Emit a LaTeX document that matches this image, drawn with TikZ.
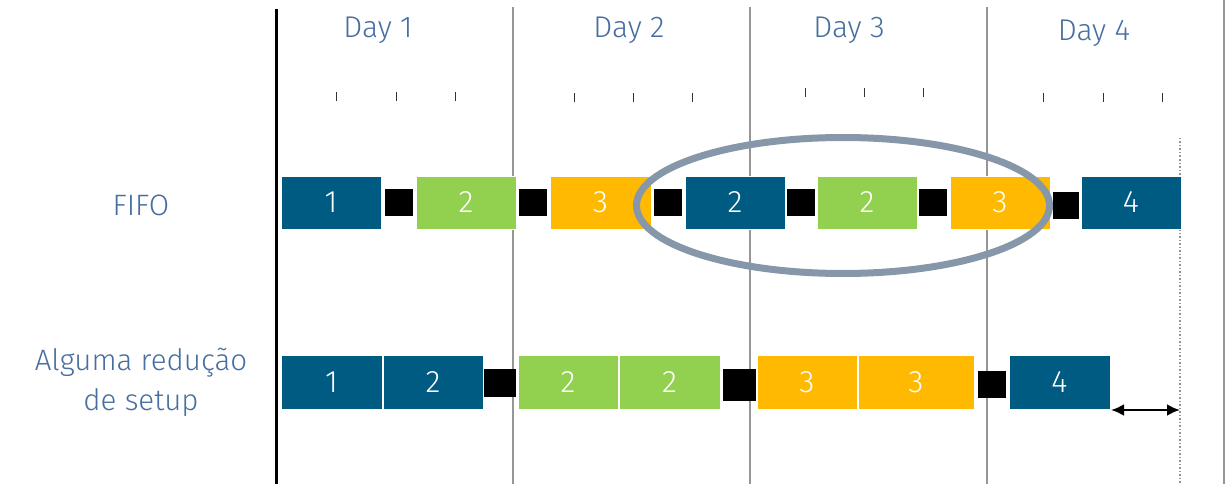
\documentclass[tikz,border=0pt]{standalone}
\usepackage{fontspec}
\setmainfont{Fira Sans Light}
\usetikzlibrary{arrows.meta,shapes.geometric}
\definecolor{cblue}{RGB}{0,91,130}
\definecolor{cgreen}{RGB}{146,208,80}
\definecolor{cyellow}{RGB}{255,185,0}
\definecolor{cring}{RGB}{133,151,168}
\definecolor{ctext}{RGB}{70,110,160}
\definecolor{cday}{RGB}{150,150,150}
\tikzset{
  lbl/.style={text=ctext,font=\fontsize{29.5}{40}\selectfont,align=center,inner sep=0pt},
  daylbl/.style={lbl,font=\fontsize{30}{32}\selectfont},
  bx/.style={draw=white,line width=1pt,inner sep=0pt,text=white,font=\fontsize{31}{32}\selectfont},
  fbox/.style={bx,minimum height=53pt},
  bbox/.style={bx,minimum height=54pt},
  setupbox/.style={fill=black,draw=none,inner sep=0pt},
  dayline/.style={draw=cday,line width=2pt},
  tickmark/.style={draw=black!80,line width=1pt},
}
\begin{document}
\begin{tikzpicture}[x=1pt,y=-1pt]
\useasboundingbox (0,0) rectangle (1226,484);
% axis and day separators
\coordinate (axT) at (276.5,9); \coordinate (axB) at (276.5,484);
\draw[line width=3pt] (axT) -- (axB);
\foreach \x/\n in {513/a,750/b,987/c}{
  \coordinate (d\n T) at (\x,7); \coordinate (d\n B) at (\x,484);
  \draw[dayline] (d\n T) -- (d\n B);
}
\coordinate (edgeT) at (1224,0); \coordinate (edgeB) at (1224,484);
\draw[draw=cday,line width=2.5pt] (edgeT) -- (edgeB);
\coordinate (dotT) at (1180,138); \coordinate (dotB) at (1180,484);
\draw[draw=cday,line width=1.5pt,dotted] (dotT) -- (dotB);
% day labels
\node[daylbl] (day1) at (378,30) {Day 1};
\node[daylbl] (day2) at (629,30) {Day 2};
\node[daylbl] (day3) at (849,30) {Day 3};
\node[daylbl] (day4) at (1094,33) {Day 4};
% ticks
\foreach \x/\y in {336/92,396/92,455/92,574/93,633/93,692/93,805/88,864/88,923/88,1043/93,1103/93,1162/93}{
  \draw[tickmark] (\x,\y) -- ++(0,9);
}
% row labels
\node[lbl] (fifo) at (141,205) {FIFO};
\node[lbl] (alg) at (141,382) {Alguma redução\\de setup};
% FIFO row
\node[fbox,fill=cblue,minimum width=100pt] (f1) at (331,202.5) {1};
\node[setupbox,minimum width=28pt,minimum height=27pt] (s1) at (399,202.5) {};
\node[fbox,fill=cgreen,minimum width=100pt] (f2) at (466,202.5) {2};
\node[setupbox,minimum width=28pt,minimum height=27pt] (s2) at (533,202.5) {};
\node[fbox,fill=cyellow,minimum width=101pt] (f3) at (600.5,202.5) {3};
\node[setupbox,minimum width=28pt,minimum height=27pt] (s3) at (668,202.5) {};
\node[fbox,fill=cblue,minimum width=100pt] (f4) at (735,202.5) {2};
\node[setupbox,minimum width=28pt,minimum height=27pt] (s4) at (801,202.5) {};
\node[fbox,fill=cgreen,minimum width=100pt] (f5) at (867,202.5) {2};
\node[setupbox,minimum width=28pt,minimum height=27pt] (s5) at (933,202.5) {};
\node[fbox,fill=cyellow,minimum width=100pt] (f6) at (1000,202.5) {3};
\node[setupbox,minimum width=26pt,minimum height=27pt] (s6) at (1066,205) {};
\node[fbox,fill=cblue,minimum width=100pt] (f7) at (1131,202.5) {4};
% highlight ellipse
\node[draw=cring,line width=7pt,ellipse,minimum width=413pt,minimum height=136pt,inner sep=0pt] (ring) at (843,205.5) {};
% lower row
\node[bbox,fill=cblue,minimum width=101pt] (b1) at (331.5,382) {1};
\node[bbox,fill=cblue,minimum width=100pt] (b2) at (433,382) {2};
\node[setupbox,minimum width=32pt,minimum height=28pt] (t1) at (500,383) {};
\node[bbox,fill=cgreen,minimum width=100pt] (b3) at (568,382) {2};
\node[bbox,fill=cgreen,minimum width=101pt] (b4) at (669.5,382) {2};
\node[setupbox,minimum width=33pt,minimum height=32pt] (t2) at (739.5,385) {};
\node[bbox,fill=cyellow,minimum width=100pt] (b5) at (807,382) {3};
\node[bbox,fill=cyellow,minimum width=116pt] (b6) at (916,382) {3};
\node[setupbox,minimum width=28pt,minimum height=27pt] (t3) at (992,384.5) {};
\node[bbox,fill=cblue,minimum width=101pt] (b7) at (1059.5,382) {4};
% gap arrow
\coordinate (gapL) at (1111,410); \coordinate (gapR) at (1180,410);
\draw[line width=2.5pt,{Latex[length=13pt,width=12pt]}-{Latex[length=13pt,width=12pt]}] (gapL) -- (gapR);
\end{tikzpicture}
\end{document}
